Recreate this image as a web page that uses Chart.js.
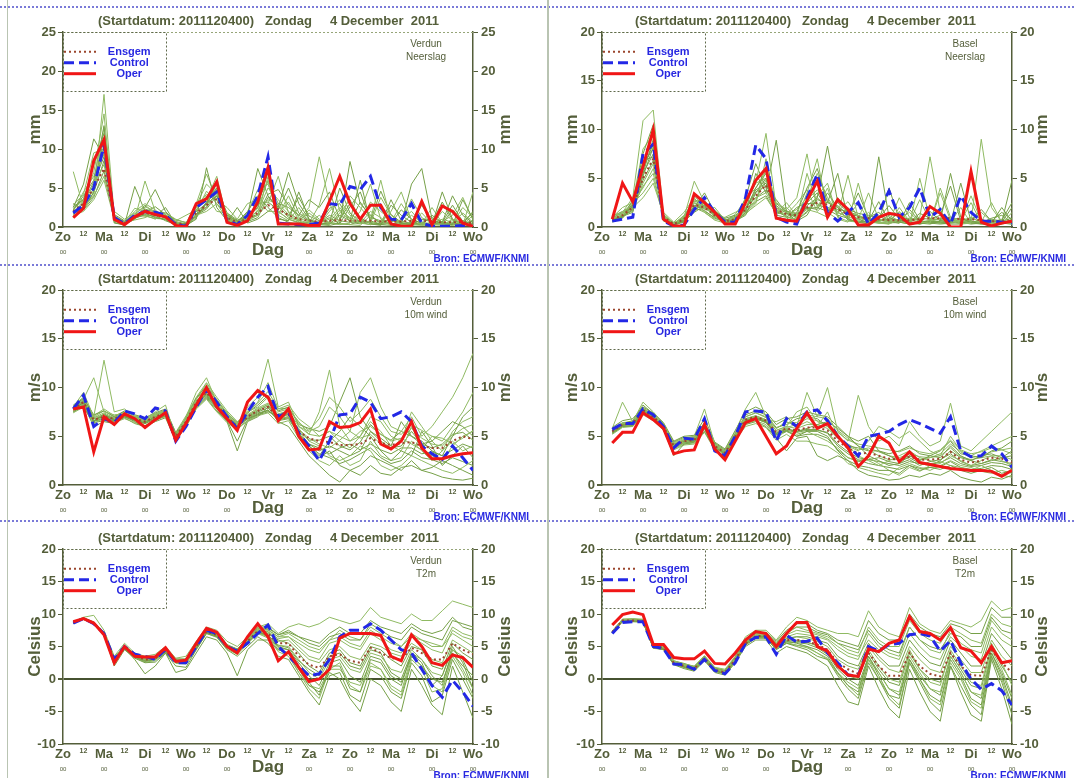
<!DOCTYPE html>
<html>
<head>
<meta charset="utf-8">
<script src="https://cdn.jsdelivr.net/npm/chart.js@4.4.0/dist/chart.umd.min.js"></script>
<style>
  body { margin: 0; background: #fff; width: 1074px; height: 778px; position: relative; overflow: hidden; }
  canvas { position: absolute; }
  .hsep { position: absolute; left: 0; width: 1074px; height: 0; border-top: 2px dotted #7a7ad8; }
  .vsep { position: absolute; top: 0; height: 778px; width: 2px; background: #b9c4b2; }
</style>
</head>
<body>
<div class="hsep" style="top:6px"></div>
<div class="hsep" style="top:264px"></div>
<div class="hsep" style="top:520px"></div>
<div class="vsep" style="left:7px;width:1px"></div>
<div class="vsep" style="left:547px"></div>
<canvas id="c1" width="537" height="264" style="left:0;top:0"></canvas>
<canvas id="c2" width="537" height="264" style="left:537px;top:0"></canvas>
<canvas id="c3" width="537" height="264" style="left:0;top:258px"></canvas>
<canvas id="c4" width="537" height="264" style="left:537px;top:258px"></canvas>
<canvas id="c5" width="537" height="264" style="left:0;top:517px"></canvas>
<canvas id="c6" width="537" height="264" style="left:537px;top:517px"></canvas>
<script>
// forecast hours after 2011-12-04 00 UTC
var hours = [6,12,18,24,30,36,42,48,54,60,66,72,78,84,90,96,102,108,114,120,
             126,132,138,144,150,156,162,168,174,180,186,192,198,204,210,216,222,228,234,240];
var dayLabels = ["Zo","Ma","Di","Wo","Do","Vr","Za","Zo","Ma","Di","Wo"];

// ---- Verdun neerslag (mm)
var verdunRainOper = [1.2,2.4,8.5,11.2,1.0,0.3,1.3,2.0,1.6,1.3, 0.2,0.0,3.0,3.6,5.8,0.6,0.2,0.8,3.2,7.6,
                      0.4,0.4,0.4,0.2,0.2,3.3,6.5,3.0,1.0,2.8, 2.8,0.4,0.1,0.1,3.3,0.3,2.7,2.0,0.5,0.1];
var verdunRainControl = [1.8,2.8,5.0,10.5,1.2,0.4,1.5,2.0,1.9,1.5, 0.3,0.1,2.5,3.5,4.5,0.8,0.3,1.5,4.0,9.0,
                         0.5,0.4,0.3,0.3,0.5,3.0,2.8,5.2,4.8,6.5, 2.5,1.0,0.9,3.0,0.5,0.1,0.1,0.1,0.2,0.1];
var verdunRainMean = [2.0,3.0,5.0,7.5,1.2,0.5,1.3,1.8,1.6,1.3, 0.5,0.3,1.8,2.8,3.6,1.2,0.6,1.0,1.8,2.8,
                      2.3,1.5,1.0,0.8,0.7,0.8,0.9,0.8,0.8,0.8, 0.7,0.7,0.7,0.8,0.9,0.6,0.6,0.6,0.6,0.5];
var verdunRainMembers = [
  [7.1,2.5,4.0,17.0,1.5,0.5,2.0,3.0,2.2,1.0, 0.4,0.2,2.5,3.5,6.5,1.0,0.3,1.2,2.0,5.0, 3.5,2.0,0.8,0.3,0.5,1.0,2.5,1.0,0.5,0.3, 0.8,0.2,1.0,2.0,0.5,0.3,0.2,1.0,0.5,0.3],
  [2.5,5.5,11.3,9.0,0.8,0.3,5.2,2.0,1.5,0.8, 0.3,0.5,2.0,3.0,4.0,1.5,0.8,1.5,7.5,4.0, 2.5,7.0,3.0,1.0,0.3,0.2,0.5,8.4,3.0,1.5, 0.4,1.2,0.5,0.3,1.0,0.8,0.5,0.3,3.5,1.0],
  [1.5,2.0,3.5,6.0,1.0,0.4,1.0,5.9,2.0,1.5, 0.6,0.3,1.5,2.0,3.0,1.0,0.5,0.8,1.5,3.0, 6.5,1.8,1.0,2.5,9.0,3.0,0.5,0.3,0.2,1.5, 0.5,2.0,4.5,0.8,0.3,0.2,0.5,0.3,0.2,4.5],
  [2.2,4.0,6.0,13.0,0.6,0.2,1.2,2.5,4.8,2.0, 0.5,0.2,1.0,7.6,2.5,0.8,0.3,1.5,2.5,8.0, 1.0,0.8,4.5,1.0,0.5,0.4,1.5,0.8,6.0,0.5, 0.3,0.2,0.4,5.5,7.5,1.0,0.4,0.3,0.4,0.8],
  [1.8,3.0,5.5,8.0,2.0,1.0,1.8,1.5,1.0,1.8, 1.0,0.5,3.0,6.8,3.5,2.5,1.0,3.0,3.5,2.0, 2.0,1.0,0.5,0.4,0.3,2.0,3.5,1.5,1.0,0.5, 3.8,1.5,0.5,0.3,0.2,0.3,2.0,0.8,0.3,0.2],
  [3.0,2.2,4.5,10.5,0.5,0.3,1.5,1.8,1.2,1.0, 0.2,0.1,1.2,3.0,5.0,0.6,2.5,0.5,1.0,2.0, 3.0,2.5,1.5,3.5,2.5,4.5,1.0,3.0,1.2,0.4, 0.2,2.8,1.5,0.6,0.3,1.5,0.6,4.0,1.5,0.5],
  [1.2,2.8,4.0,6.5,1.3,0.6,0.9,1.2,1.8,1.5, 0.8,1.5,2.2,4.0,2.0,1.8,0.4,1.0,1.5,6.5, 1.5,4.0,1.2,0.6,1.5,0.5,0.3,0.5,2.0,5.5, 1.0,0.4,0.3,0.2,0.5,0.4,0.3,0.2,0.5,0.3],
  [2.6,3.5,8.0,12.0,0.9,0.4,1.3,2.2,1.4,2.5, 0.4,0.2,1.6,2.5,4.5,1.2,0.6,2.0,4.0,2.5, 1.2,0.6,0.4,0.3,0.6,1.2,0.4,0.3,0.8,0.5, 0.3,0.5,2.2,1.0,0.5,0.3,0.6,0.5,0.4,2.0],
  [2.0,4.5,6.5,9.5,1.1,0.5,1.6,2.8,1.8,1.2, 0.5,0.3,2.8,5.5,4.2,1.4,0.7,0.6,2.2,3.5, 2.8,1.2,0.8,1.8,0.8,0.5,0.8,4.0,2.5,1.0, 6.0,0.8,0.5,1.5,0.6,0.4,1.0,0.6,0.3,1.5],
  [1.6,2.6,5.0,11.5,1.4,0.7,1.1,1.6,1.3,0.9, 0.4,0.2,1.4,3.2,5.5,0.9,0.5,1.1,2.8,7.0, 2.0,1.0,0.6,0.5,0.3,0.6,5.0,1.8,0.6,0.3, 0.5,1.0,0.4,0.3,0.4,0.3,4.5,1.0,0.5,0.3],
  [2.4,3.6,7.0,14.5,1.2,0.6,2.4,2.0,1.7,1.1, 0.6,0.3,2.0,4.6,3.0,1.6,0.8,1.8,4.8,5.5, 1.5,0.8,2.5,0.6,0.4,0.3,1.8,3.5,1.0,0.6, 0.4,0.6,3.0,1.0,0.4,2.5,0.5,0.4,1.8,0.6],
  [1.9,3.2,5.8,9.0,1.6,0.8,1.4,1.9,2.6,1.6, 0.7,0.4,2.2,3.8,5.0,1.8,0.9,1.2,1.6,4.2, 4.8,2.8,1.5,0.8,0.6,1.5,0.8,0.6,3.2,1.2, 0.8,0.5,0.3,0.6,2.8,0.6,0.4,2.2,0.8,0.4],
  [2.3,3.4,4.6,12.8,1.0,0.4,1.2,1.5,1.5,1.4, 0.3,0.2,1.7,2.6,6.0,1.1,0.4,0.9,3.5,5.8, 1.8,3.2,0.9,0.5,2.8,7.5,2.0,0.8,0.5,2.0, 1.2,0.3,0.6,3.6,1.2,0.5,0.3,0.4,2.5,1.2],
  [1.4,2.2,3.8,7.2,0.8,0.3,1.0,2.3,1.9,1.8, 0.9,0.6,1.3,3.1,4.8,0.7,0.3,0.7,1.2,3.8, 2.6,1.4,3.8,1.4,0.8,0.5,0.4,2.6,4.5,0.8, 0.3,3.5,0.8,0.4,0.3,0.6,3.2,0.9,0.4,0.8],
  [2.8,4.2,9.5,10.0,1.3,0.5,1.7,2.6,2.0,1.5, 0.5,0.2,2.6,4.2,3.4,1.3,0.6,1.4,2.4,6.0, 3.0,1.6,0.7,2.2,1.0,0.6,2.2,1.2,0.7,3.2, 2.0,0.9,0.4,0.5,1.8,0.4,0.7,1.5,3.8,0.9],
  [1.7,2.5,4.4,8.5,1.1,0.4,1.5,1.4,1.1,1.0, 0.4,0.3,1.5,2.3,4.0,1.0,0.5,1.3,3.0,3.2, 2.2,5.0,1.8,0.9,0.4,2.4,3.0,0.6,0.4,0.8, 4.6,1.6,0.6,0.3,0.5,1.2,0.6,2.8,0.7,1.8]
];

// ---- Basel neerslag (mm)
var baselRainOper = [0.8,4.5,2.6,6.2,10.0,0.8,0.1,0.1,3.4,2.5, 1.5,0.3,0.3,2.5,4.8,6.0,0.9,0.7,0.6,2.7,
                     4.7,1.0,2.8,1.8,0.2,0.2,1.0,1.4,1.2,0.3, 0.5,2.1,1.4,0.0,0.0,5.7,0.5,0.1,0.4,0.6];
var baselRainControl = [0.6,0.8,1.0,7.5,8.5,0.6,0.1,0.2,1.8,3.0, 1.5,0.5,0.5,3.0,8.4,7.0,1.0,0.5,0.3,3.0,
                        5.4,1.5,0.6,1.5,2.5,0.3,1.5,3.7,1.0,2.0, 4.0,1.0,1.8,0.3,3.2,1.5,0.6,0.6,0.5,0.4];
var baselRainMean = [0.8,1.2,2.0,5.0,7.0,1.0,0.3,0.8,2.3,2.0, 1.2,0.6,0.8,1.8,3.2,4.3,1.8,1.3,1.2,2.0,
                     2.5,2.3,1.8,1.3,1.0,0.9,0.8,0.7,0.7,0.7, 0.8,0.9,0.9,0.9,0.8,0.8,0.7,0.6,0.6,0.6];
var baselRainMembers = [
  [0.9,1.5,3.0,10.9,12.0,1.2,0.4,1.0,4.7,2.5, 1.0,0.5,1.0,2.5,4.5,9.6,2.0,1.0,0.8,3.5, 7.0,1.5,0.8,0.5,4.5,0.6,0.4,0.3,0.8,1.5, 0.5,0.4,4.0,1.0,0.3,0.5,9.0,2.0,0.5,0.3],
  [0.6,1.0,1.8,6.5,8.0,0.8,0.2,0.5,2.0,3.5, 1.5,0.8,0.5,1.5,5.5,3.5,8.9,1.5,0.6,1.2, 3.0,8.3,2.5,1.5,0.8,0.4,7.2,1.0,0.5,0.3, 0.4,0.3,0.6,5.5,1.0,0.4,0.3,0.6,1.5,0.8],
  [1.0,2.0,2.5,4.0,6.0,1.5,0.5,1.5,3.0,1.5, 0.8,1.0,1.5,2.0,2.5,6.0,2.5,1.8,3.0,7.5, 2.0,4.0,1.0,2.0,0.6,1.5,0.5,0.3,2.0,0.6, 1.0,7.2,1.5,0.8,0.6,1.0,0.4,0.5,0.3,1.5],
  [0.7,1.1,1.5,5.5,9.0,0.6,0.2,0.6,1.5,2.2, 1.3,0.4,0.6,1.2,3.5,5.0,1.0,0.8,1.5,4.0, 6.0,2.5,5.5,0.8,0.5,0.3,0.6,4.0,0.8,0.4, 0.3,0.6,0.5,0.4,4.5,0.6,0.3,0.2,0.5,2.0],
  [1.2,1.4,2.4,3.5,5.0,1.0,0.3,0.9,2.5,1.8, 2.0,0.7,1.0,2.2,3.0,3.5,1.5,2.0,1.0,1.8, 1.5,1.0,3.0,1.5,1.2,0.8,0.4,0.6,0.5,0.3, 5.0,0.8,0.4,0.6,0.3,0.4,0.6,0.4,0.3,0.5],
  [0.5,0.9,2.2,7.5,10.5,0.9,0.3,0.7,1.9,1.7, 0.9,0.5,0.7,3.0,6.5,4.0,1.2,1.0,2.0,2.5, 3.5,1.8,1.2,0.9,0.4,1.0,1.5,0.5,0.4,2.5, 0.7,0.4,0.3,0.4,0.5,0.3,0.4,0.3,0.5,4.8],
  [0.8,1.3,1.6,4.5,6.5,1.1,0.4,0.8,2.6,2.8, 1.1,0.6,0.9,1.6,2.8,4.8,2.0,1.5,0.9,5.5, 2.2,2.0,1.5,1.0,2.5,0.7,0.5,1.2,0.6,0.4, 0.5,0.6,0.8,0.5,0.6,2.5,0.4,0.8,0.4,0.3],
  [0.9,1.0,2.8,5.5,7.5,0.7,0.2,0.6,2.2,2.0, 1.6,0.9,1.2,1.9,3.8,4.5,1.6,1.1,0.7,1.5, 2.8,2.5,2.0,0.7,0.6,0.5,0.4,0.4,0.5,0.6, 0.3,0.5,0.4,0.3,0.3,0.5,0.4,0.5,0.6,0.4],
  [0.6,1.2,2.0,3.0,4.5,1.3,0.4,1.1,2.0,1.5, 0.7,0.4,0.6,1.4,2.2,3.0,1.4,2.5,1.1,2.8, 3.8,2.8,1.3,5.3,0.9,0.6,1.2,0.5,3.0,1.0, 0.6,0.4,0.5,1.0,0.5,0.7,1.5,0.6,0.4,0.3],
  [1.1,1.6,2.2,6.0,8.5,1.0,0.3,1.0,2.8,2.4, 1.4,0.6,0.8,1.7,4.0,5.5,2.2,1.4,1.3,2.0, 1.8,3.5,2.0,1.4,1.1,0.8,0.6,0.9,0.7,0.5, 1.4,0.9,0.7,0.6,0.8,0.6,0.5,0.4,2.0,0.6],
  [0.7,1.3,2.6,8.0,9.5,0.9,0.3,0.7,2.4,2.2, 1.0,0.5,0.9,2.4,4.5,5.0,1.5,1.2,1.8,3.0, 5.5,3.0,1.5,1.0,0.8,3.5,0.8,0.6,1.5,0.4, 0.6,0.5,3.5,0.7,0.4,1.0,0.5,2.5,0.5,0.4],
  [1.0,1.4,2.1,4.8,6.8,1.2,0.4,0.9,2.1,1.9, 1.3,0.7,1.1,2.0,3.0,3.8,2.4,1.6,1.4,1.9, 2.0,1.6,2.6,1.8,1.4,1.2,0.9,2.2,0.8,0.9, 0.7,1.6,0.6,0.8,0.9,0.7,1.8,0.6,0.7,2.5],
  [0.8,1.1,1.9,5.8,10.2,0.8,0.2,0.6,1.6,2.6, 1.7,0.8,0.7,1.3,2.4,7.0,1.8,1.0,0.8,1.6, 3.2,4.5,1.0,0.6,0.5,0.4,0.7,0.5,1.6,0.5, 2.8,0.6,0.4,0.5,2.0,0.4,0.5,0.7,0.4,0.6],
  [0.6,1.0,2.4,6.8,7.2,1.1,0.3,0.8,3.2,2.1, 1.2,0.5,0.8,1.8,3.6,4.2,2.8,1.4,1.0,2.4, 2.4,1.8,2.2,1.2,3.5,0.9,0.6,0.8,0.5,0.7, 0.9,0.8,1.2,4.2,0.6,0.5,0.4,0.9,1.2,0.5],
  [0.9,1.5,2.0,4.2,5.5,0.9,0.3,1.2,2.7,1.6, 1.0,0.6,1.3,2.8,4.0,5.8,1.7,1.3,2.4,3.8, 1.6,2.6,1.6,2.6,1.0,0.8,0.5,0.4,0.6,0.8, 0.5,0.7,0.9,0.6,0.7,3.2,0.6,0.5,0.8,0.4],
  [0.7,1.2,1.7,5.2,8.2,1.0,0.3,0.7,1.8,2.3, 1.5,0.7,0.6,1.5,2.6,3.2,1.3,1.7,0.9,2.2, 3.0,2.0,1.8,1.6,1.2,0.6,2.6,0.6,0.4,1.8, 0.6,0.4,0.6,0.5,0.4,0.6,0.5,0.8,0.6,0.9]
];

// ---- Verdun 10m wind (m/s)
var verdunWindOper = [7.8,8.0,3.4,7.0,6.2,7.3,6.8,5.9,6.7,7.4, 4.6,6.3,8.2,10.0,8.0,6.8,5.6,8.5,9.7,9.0,
                      6.6,7.8,5.0,3.6,3.7,6.5,5.9,6.0,6.4,7.8, 4.2,3.7,4.5,6.5,3.8,2.7,2.7,3.0,3.2,3.3];
var verdunWindControl = [7.8,9.2,6.0,6.8,6.4,7.6,7.3,6.8,7.9,7.6, 4.5,6.0,8.0,9.8,8.5,7.0,5.8,7.5,9.0,10.1,
                         7.0,7.5,5.3,4.0,2.5,4.5,7.2,7.3,9.0,8.5, 6.8,7.0,7.5,6.5,4.0,3.2,2.6,4.0,2.8,1.5];
var verdunWindMean = [7.8,8.5,6.7,7.0,6.8,7.2,6.8,6.5,7.0,7.4, 5.0,6.5,8.5,9.5,8.2,7.0,6.0,7.0,7.6,8.0,
                      7.0,7.2,5.5,4.8,4.5,4.4,4.1,4.1,4.2,4.8, 4.3,4.1,4.3,4.4,4.0,3.8,3.8,4.5,5.0,4.7];
var verdunWindMembers = [
  [8.0,9.5,7.0,12.8,7.5,7.8,7.0,6.8,7.5,8.2, 4.8,7.0,9.5,11.0,8.5,7.5,5.5,8.0,9.0,12.9, 8.0,8.5,6.0,5.5,6.0,8.0,7.0,5.5,9.5,11.0, 8.0,6.0,5.5,7.0,5.0,6.0,7.5,9.0,11.0,13.5],
  [7.5,8.2,6.0,6.5,6.3,7.0,6.5,5.9,6.6,7.1, 4.6,6.2,8.0,9.0,7.8,6.5,3.5,6.5,7.0,8.0, 6.5,6.0,4.5,3.0,2.0,1.0,0.3,1.5,2.0,3.0, 2.5,2.0,1.5,2.5,1.5,1.8,2.5,2.0,1.5,1.0],
  [7.7,8.8,11.0,7.5,7.2,7.3,7.0,6.9,7.3,7.5, 5.2,6.8,8.8,10.0,8.8,7.4,6.2,7.5,8.0,9.0, 7.5,7.8,6.5,5.2,7.5,11.8,6.0,4.5,5.0,6.5, 5.5,4.0,3.5,6.0,3.8,3.0,2.5,4.0,5.0,5.5],
  [7.9,8.6,6.5,7.2,6.6,7.0,6.7,6.3,6.8,7.2, 5.1,6.4,8.2,9.3,8.0,6.8,6.3,6.8,7.2,7.5, 7.2,7.5,5.0,4.0,3.0,4.5,5.5,7.0,6.0,5.0, 3.5,2.5,3.5,3.0,5.5,4.0,2.0,3.0,4.0,2.8],
  [7.6,8.3,6.8,6.8,6.9,7.4,6.9,6.6,7.1,7.6, 4.9,6.6,8.6,9.6,8.3,7.1,6.1,7.1,7.7,8.3, 6.8,7.0,5.8,4.5,4.0,3.0,2.5,3.0,4.0,3.5, 2.0,1.5,2.0,3.0,2.5,2.0,1.5,1.2,1.8,2.5],
  [8.1,8.9,7.2,7.6,7.0,7.6,7.2,6.9,7.4,7.8, 5.3,6.9,8.9,10.2,8.6,7.3,6.4,7.4,8.2,9.2, 7.6,8.0,6.2,5.8,5.5,6.0,8.5,11.0,7.0,5.5, 4.8,4.0,6.5,5.0,4.5,3.5,3.0,5.0,7.0,8.0],
  [7.4,8.0,6.3,6.9,6.4,6.8,6.4,6.1,6.7,7.0, 4.7,6.0,7.8,8.8,7.5,6.4,5.7,6.6,7.1,7.4, 6.3,6.6,4.8,3.5,2.5,2.0,3.0,2.0,2.5,4.5, 3.0,2.5,2.8,4.5,3.5,2.5,3.5,4.5,3.5,4.0],
  [7.8,8.4,6.6,7.3,6.7,7.1,6.6,6.4,7.0,7.3, 5.0,6.5,8.4,9.4,8.1,6.9,5.9,6.9,7.5,7.9, 7.0,7.3,5.5,4.2,3.5,4.0,3.5,3.0,3.5,5.5, 4.5,3.8,4.0,5.5,4.2,4.5,5.5,6.5,6.0,5.0],
  [8.2,9.0,7.1,7.8,7.1,7.5,7.1,6.8,7.2,7.7, 5.4,7.1,9.0,10.5,9.0,7.6,6.5,7.3,8.5,10.5, 7.8,8.2,6.8,6.0,5.0,5.5,4.5,3.8,5.0,7.0, 6.5,5.0,4.5,7.5,6.0,4.5,3.5,5.5,6.5,7.0],
  [7.5,8.1,6.4,6.6,6.5,6.9,6.3,6.0,6.5,6.9, 4.5,6.0,7.9,8.9,7.6,6.6,4.5,6.7,7.3,7.7, 6.6,6.8,5.2,3.8,2.8,3.5,2.0,1.5,1.0,2.0, 1.2,1.0,1.8,2.0,1.5,1.2,0.8,0.6,0.5,0.7],
  [7.7,8.7,6.9,7.4,6.9,7.3,6.9,6.6,7.2,7.5, 5.1,6.6,8.6,9.8,8.4,7.2,6.2,7.2,7.9,8.4, 7.3,7.6,6.0,5.2,5.0,5.5,5.0,4.5,5.5,6.0, 5.2,4.5,4.8,5.8,4.8,4.2,4.0,5.0,5.8,6.2],
  [7.9,8.4,6.5,6.9,6.7,7.1,6.7,6.4,6.9,7.3, 4.9,6.4,8.3,9.2,8.0,6.9,5.9,6.8,7.4,7.6, 6.8,7.0,5.2,4.2,3.8,3.2,3.8,4.2,3.6,4.2, 3.6,3.2,3.8,3.8,3.2,3.4,3.0,3.6,4.2,3.8],
  [7.6,8.9,7.0,7.6,7.0,7.4,7.0,6.7,7.3,7.7, 5.2,6.8,8.8,10.4,8.7,7.4,6.4,7.6,8.4,9.6, 7.8,7.9,6.4,5.6,6.8,9.0,8.0,6.5,7.5,8.8, 7.0,5.5,5.2,6.2,5.6,5.0,4.5,6.0,7.5,9.5],
  [7.7,8.3,6.6,6.7,6.6,7.0,6.6,6.3,6.8,7.1, 4.8,6.3,8.1,9.1,7.9,6.7,5.8,6.6,7.2,7.7, 6.7,6.9,5.3,4.0,3.2,2.8,2.2,2.6,3.2,3.8, 2.8,2.2,2.5,3.5,2.8,2.6,2.2,2.8,2.4,2.0],
  [8.0,8.7,6.9,7.2,6.9,7.3,6.9,6.6,7.1,7.5, 5.0,6.6,8.5,9.6,8.3,7.0,6.1,7.1,7.8,8.2, 7.1,7.4,5.7,4.8,4.2,3.8,4.6,5.5,4.8,5.2, 4.2,3.6,4.8,4.2,3.6,5.0,4.8,4.2,4.8,5.6],
  [7.8,8.5,6.8,7.0,6.8,7.2,6.8,6.5,7.0,7.4, 5.0,6.5,8.4,9.4,8.2,7.0,6.0,7.0,7.6,8.1, 7.0,7.2,5.6,4.6,4.6,5.0,4.0,3.6,4.4,6.2, 5.2,4.6,5.5,5.0,4.2,3.8,4.2,5.2,5.4,4.6]
];

// ---- Basel 10m wind (m/s)
var baselWindOper = [4.3,5.4,5.4,7.4,6.7,5.8,3.2,3.5,3.6,6.2, 3.7,2.6,4.5,6.4,6.8,5.0,3.2,4.0,5.8,7.4,
                     5.8,6.3,5.0,3.8,1.9,3.0,5.0,4.3,2.4,3.4, 2.3,2.1,1.9,1.7,1.6,1.5,1.5,1.4,0.9,1.5];
var baselWindControl = [5.7,6.3,6.3,7.8,7.2,6.0,3.8,4.8,4.7,6.8, 3.5,3.0,5.0,7.5,7.6,7.5,4.5,6.8,6.0,7.5,
                        7.7,6.6,5.0,4.0,3.0,5.0,5.2,5.5,6.2,6.7, 6.3,5.8,5.3,7.0,3.5,2.9,3.0,4.0,3.2,1.8];
var baselWindMean = [5.5,6.2,6.3,7.7,7.0,6.0,4.0,4.5,4.6,6.0, 4.0,3.3,5.0,6.7,7.0,6.6,5.4,5.8,5.6,5.9,
                     5.9,5.6,4.5,3.8,3.2,3.3,3.0,2.7,2.6,2.9, 2.6,2.6,2.7,3.4,2.6,2.3,2.5,2.8,2.7,2.3];
var baselWindMembers = [
  [5.8,8.5,6.5,8.5,7.5,6.3,4.3,4.8,5.0,7.8, 4.2,3.5,5.5,7.8,9.5,7.0,5.8,6.5,6.0,9.5, 7.0,10.0,5.5,4.5,9.2,6.0,4.5,5.0,4.0,6.5, 5.0,4.0,4.5,8.4,4.0,3.5,4.5,5.5,6.5,7.5],
  [5.3,6.0,6.1,7.3,6.8,5.7,3.0,4.2,4.4,5.5, 3.7,2.8,4.5,6.2,6.5,6.0,4.8,3.5,4.8,5.0, 3.0,2.5,3.0,2.5,1.5,1.0,0.8,0.5,0.6,1.0, 0.8,1.2,1.0,1.5,0.8,0.5,0.3,0.8,0.6,1.0],
  [5.6,6.4,6.3,7.9,7.2,6.1,4.1,4.6,4.8,6.2, 4.1,3.4,5.2,7.0,7.4,6.9,5.6,6.0,7.5,8.0, 6.5,6.0,5.0,4.0,3.5,4.5,6.0,5.5,4.8,5.5, 4.5,3.5,3.0,5.0,3.5,3.0,3.5,4.0,4.5,5.0],
  [5.4,6.1,6.2,7.5,6.9,5.9,3.8,4.3,4.5,5.8, 3.9,3.2,4.8,6.5,6.8,6.4,5.2,5.5,5.0,5.5, 5.5,5.0,3.5,2.5,2.0,1.8,1.5,1.5,1.2,2.0, 1.5,1.8,1.6,2.0,1.5,1.2,1.5,1.8,1.2,1.5],
  [5.7,6.3,6.4,7.8,7.1,6.0,4.0,4.6,4.7,6.1, 4.0,3.4,5.1,6.8,7.1,6.7,6.5,7.0,6.0,6.5, 6.0,7.5,5.0,4.0,3.0,2.5,2.0,2.5,3.0,3.5, 2.8,2.5,2.2,3.0,2.5,2.0,2.5,3.0,2.5,2.0],
  [5.5,6.2,6.4,7.6,7.0,6.1,4.2,4.5,4.6,6.0, 4.1,3.3,5.0,6.6,6.9,6.5,5.3,5.8,5.5,5.8, 6.2,6.5,5.8,5.0,4.5,5.0,3.5,3.0,2.5,2.8, 2.2,2.0,2.5,3.5,2.8,2.5,2.2,2.5,2.8,3.5],
  [5.4,6.0,6.0,7.4,6.7,5.8,3.7,4.2,4.3,5.7, 3.8,3.1,4.7,6.3,6.6,6.2,4.9,5.5,5.2,5.5, 5.0,4.5,3.8,2.8,2.5,2.8,2.2,1.5,1.0,1.8, 1.4,2.0,2.4,2.0,1.8,1.5,2.0,1.5,1.0,0.8],
  [5.6,6.3,6.6,8.2,7.3,6.3,4.4,4.9,4.9,6.4, 4.3,3.6,5.3,7.2,7.6,7.2,5.9,6.2,6.8,7.0, 6.8,6.0,4.8,4.0,3.8,3.5,3.5,3.2,3.5,4.0, 3.2,3.0,3.5,4.5,3.2,3.0,2.8,3.5,3.8,4.5],
  [5.2,5.9,6.0,7.2,6.6,5.6,3.6,4.1,4.2,5.4, 3.6,3.0,4.6,6.0,6.3,5.9,4.6,5.2,4.5,4.5, 4.2,4.0,3.3,2.2,1.8,1.5,1.2,1.0,1.8,2.2, 1.8,1.5,2.0,2.5,2.0,1.8,1.4,1.2,1.5,1.2],
  [5.9,6.6,6.8,8.0,7.4,6.4,4.5,5.0,5.1,6.8, 4.4,3.7,5.6,7.5,8.0,7.5,6.2,6.8,7.0,7.5, 7.2,7.0,6.0,5.0,4.0,3.0,2.5,2.0,2.2,3.0, 2.5,3.0,2.8,4.0,3.0,2.5,3.0,3.2,2.8,3.0],
  [5.5,6.2,6.3,7.6,7.0,6.0,4.0,4.5,4.6,6.0, 4.0,3.3,5.0,6.8,7.1,6.7,5.6,6.0,5.8,6.2, 6.2,5.8,4.8,4.2,3.6,3.8,3.4,3.0,2.8,3.2, 2.9,2.8,3.0,3.8,2.9,2.6,2.8,3.0,3.0,2.6],
  [5.6,6.3,6.2,7.8,7.1,6.1,4.1,4.6,4.7,6.1, 4.1,3.4,5.1,6.6,6.9,6.5,5.2,5.6,5.4,5.6, 5.6,5.4,4.2,3.4,2.8,2.6,2.4,2.2,2.0,2.4, 2.2,2.2,2.3,2.8,2.2,1.9,2.0,2.3,2.2,1.9],
  [5.4,6.1,6.4,7.7,6.9,5.9,3.9,4.4,4.5,5.9, 3.9,3.2,4.9,6.7,7.0,6.6,5.4,5.9,6.2,6.8, 6.6,6.2,5.4,4.6,4.2,4.0,3.8,3.6,3.4,3.8, 3.4,3.2,3.6,4.6,3.6,3.2,3.4,3.8,3.6,3.2],
  [5.5,6.2,6.3,7.7,7.0,6.0,4.0,4.5,4.6,6.0, 4.0,3.3,5.0,6.7,7.0,6.6,5.3,5.7,5.5,5.7, 5.7,5.3,4.0,3.2,2.6,2.2,2.0,1.8,1.6,2.0, 1.7,1.8,1.9,2.4,1.8,1.6,1.7,2.0,1.9,1.6],
  [5.6,6.4,6.5,7.9,7.2,6.2,4.2,4.7,4.8,6.3, 4.2,3.5,5.2,7.0,7.4,7.0,5.8,6.4,6.4,7.2, 7.0,6.8,5.6,4.8,4.0,3.6,3.0,2.6,2.6,3.0, 2.6,2.8,3.2,4.2,3.4,2.8,3.0,3.4,3.6,3.8],
  [5.3,6.0,6.1,7.5,6.8,5.8,3.9,4.4,4.4,5.8, 3.8,3.2,4.8,6.5,6.8,6.4,5.1,5.6,5.0,5.2, 5.2,4.8,3.6,2.8,2.4,2.6,2.8,2.4,2.2,2.6, 2.0,2.4,2.6,3.2,2.4,2.0,2.2,2.6,2.4,2.2]
];

// ---- Verdun T2m (Celsius)
var verdunTempOper = [8.8,9.3,8.6,6.8,2.5,5.0,3.5,3.4,3.4,4.8, 2.7,2.9,5.5,7.8,7.2,5.0,4.0,6.5,8.5,6.5,
                      2.8,4.2,1.8,-0.4,0.0,1.5,6.3,7.0,7.0,7.0, 6.7,3.5,2.8,6.8,5.0,2.5,2.1,3.7,3.3,1.8];
var verdunTempControl = [8.6,9.3,8.5,7.0,3.0,5.0,3.8,3.5,3.0,4.6, 2.5,2.5,5.0,7.5,7.0,5.0,4.3,5.5,7.0,8.3,
                         5.0,3.5,2.0,0.5,0.8,3.0,6.5,7.5,7.5,8.5, 7.5,6.0,4.5,4.0,1.5,-1.0,-2.8,-0.2,-2.0,-4.2];
var verdunTempMean = [8.7,9.3,8.6,7.0,3.0,4.8,3.6,3.0,3.2,4.3, 2.8,2.8,5.0,7.3,6.8,5.0,4.3,5.8,7.4,7.0,
                      5.5,5.5,3.5,2.2,1.7,3.5,3.8,2.8,2.5,4.8, 4.0,3.2,3.0,4.8,4.0,3.0,3.0,5.5,4.5,3.8];
var verdunTempMembers = [
  [8.8,9.5,9.8,7.5,3.5,5.5,4.0,3.5,3.8,5.0, 3.2,3.5,5.8,8.0,7.5,5.8,5.0,6.5,8.0,8.5, 7.0,8.0,8.5,8.0,8.5,9.5,9.0,8.5,9.0,11.0, 9.5,9.0,8.5,10.0,9.0,9.0,10.5,12.0,11.5,11.0],
  [8.6,9.2,8.4,6.8,2.0,4.5,3.2,2.5,2.6,4.0, 2.0,1.8,4.5,7.0,6.5,4.5,3.5,5.0,6.5,5.5, 3.5,3.0,0.5,-2.0,-4.0,0.5,1.0,-2.5,-3.5,1.5, 0.5,-2.0,-3.0,2.5,0.5,-3.5,-2.5,3.0,0.0,-3.0],
  [8.7,9.4,8.8,7.2,3.2,5.0,3.8,3.2,3.5,4.5, 3.0,3.0,5.2,7.6,7.0,5.2,4.5,6.0,7.6,7.5, 6.5,6.5,5.0,3.5,3.0,5.5,6.0,5.0,4.5,7.0, 6.0,4.5,4.0,6.5,5.5,4.5,4.0,7.5,6.5,6.0],
  [8.6,9.2,8.5,6.9,2.8,4.6,3.4,2.8,3.0,4.2, 2.6,2.5,4.8,7.2,6.6,4.8,4.0,5.5,7.2,6.8, 5.0,4.5,2.0,-0.5,-2.5,2.0,2.0,-1.5,-2.0,3.0, 2.5,0.0,-1.0,4.0,2.5,-1.0,0.5,5.0,2.5,-1.5],
  [8.8,9.3,8.7,7.1,3.1,4.9,3.7,3.1,3.3,4.4, 2.9,2.9,5.1,7.4,6.9,5.1,4.4,5.9,7.5,7.2, 5.8,6.0,4.5,3.0,2.5,4.5,5.0,3.5,3.0,5.5, 5.0,4.0,3.5,5.5,4.5,3.0,2.5,6.0,5.0,4.0],
  [8.7,9.4,8.6,7.0,2.5,4.7,3.0,0.8,2.0,4.0, 1.0,1.5,4.0,6.5,6.0,4.0,0.5,4.5,6.0,6.0, 4.5,4.0,1.5,-1.0,-2.0,1.0,0.0,-3.0,-5.0,0.0, -1.0,-3.5,-5.0,1.5,-1.0,-4.0,-5.5,2.0,-2.0,-6.0],
  [8.7,9.3,8.6,7.0,3.0,4.8,3.6,3.0,3.2,4.3, 2.8,2.8,5.0,7.3,6.9,5.0,4.3,5.8,7.3,6.8, 5.2,5.0,3.0,1.0,0.0,3.0,3.5,1.5,1.0,4.0, 3.5,1.5,1.0,4.5,3.0,1.0,0.5,4.5,3.5,2.0],
  [8.8,9.4,8.7,7.1,3.3,5.1,3.9,3.3,3.5,4.6, 3.1,3.1,5.3,7.6,7.2,5.3,4.6,6.2,8.0,8.0, 6.8,7.5,6.5,5.5,5.0,6.5,7.0,6.0,6.0,8.5, 7.5,6.5,6.0,8.0,7.0,6.5,6.0,9.0,8.5,8.0],
  [8.6,9.2,8.5,6.9,2.9,4.7,3.5,2.9,3.1,4.2, 2.7,2.7,4.9,7.2,6.7,4.9,4.2,5.7,7.1,6.5, 4.5,4.0,1.0,-1.5,-3.0,1.5,1.5,-0.5,-1.0,2.5, 1.5,-1.5,-2.5,3.0,1.5,-2.0,-1.5,3.5,1.0,-2.5],
  [8.7,9.3,8.6,7.0,3.0,4.8,3.6,3.0,3.2,4.3, 2.8,2.8,5.0,7.3,6.8,5.0,4.3,5.8,7.4,7.0, 6.0,5.5,4.0,2.0,1.0,4.0,4.5,2.5,2.0,5.0, 4.5,3.0,2.0,5.0,4.5,2.0,1.5,5.5,4.0,3.0],
  [8.7,9.3,8.6,7.0,3.0,4.9,3.6,3.1,3.2,4.3, 2.8,2.8,5.0,7.3,6.8,5.0,4.3,5.8,7.4,7.3, 6.2,6.5,5.5,4.5,4.0,6.0,6.5,5.5,5.0,7.5, 6.5,5.5,5.0,7.0,6.0,5.0,5.0,8.0,7.0,6.5],
  [8.6,9.2,8.5,6.9,2.8,4.7,3.4,2.7,3.0,4.2, 2.6,2.6,4.8,7.1,6.6,4.8,4.0,5.6,7.1,6.6, 4.8,4.5,2.5,0.5,-1.0,2.5,3.0,0.5,-0.5,3.5, 3.0,0.5,-0.5,3.5,2.0,0.0,-0.5,4.0,2.0,0.5],
  [8.8,9.4,8.7,7.1,3.2,5.0,3.8,3.2,3.4,4.5, 3.0,3.0,5.2,7.5,7.0,5.2,4.5,6.0,7.7,7.6, 6.5,7.0,6.0,5.0,4.5,6.0,7.5,6.5,6.0,8.0, 7.0,6.0,5.0,6.5,6.0,5.5,5.0,7.0,6.0,5.0],
  [8.7,9.3,8.6,7.0,2.9,4.8,3.5,2.9,3.1,4.3, 2.7,2.7,4.9,7.2,6.7,4.9,4.1,5.7,7.2,6.7, 5.2,4.8,2.8,1.5,0.5,3.5,4.0,2.0,1.5,4.5, 4.0,1.0,0.0,4.0,3.0,0.5,-1.0,4.5,3.0,-0.5],
  [8.6,9.2,8.5,6.9,2.7,4.6,3.3,2.6,2.8,4.1, 2.4,2.3,4.6,7.0,6.4,4.6,3.8,5.4,7.0,6.3, 4.2,3.5,1.0,-1.0,-1.5,1.5,2.5,-1.0,-2.0,2.0, 1.5,-1.0,-2.0,3.5,2.0,-1.0,-2.0,4.0,1.5,-1.5],
  [8.8,9.4,8.7,7.1,3.1,4.9,3.7,3.2,3.4,4.5, 3.0,3.0,5.2,7.5,7.1,5.2,4.6,6.1,7.8,7.8, 6.8,7.2,6.5,6.0,5.5,7.0,8.0,7.0,7.0,9.0, 8.0,7.5,7.0,8.5,7.5,7.0,7.5,9.5,8.0,7.5]
];

// ---- Basel T2m (Celsius)
var baselTempOper = [8.3,9.9,10.3,9.9,5.3,5.3,3.3,3.1,3.1,4.3, 2.4,2.3,4.0,6.0,7.3,7.0,5.0,7.0,8.7,8.7,
                     5.0,4.3,2.0,0.6,0.4,4.6,4.2,5.5,6.0,9.6, 7.3,7.0,6.0,7.9,4.8,4.3,2.5,5.0,2.5,2.8];
var baselTempControl = [7.0,8.7,8.8,8.8,5.0,4.7,2.3,2.2,1.5,3.0, 1.3,0.8,2.5,5.5,6.4,6.5,3.8,6.7,5.7,5.8,
                        6.3,4.0,2.5,0.6,0.5,5.0,4.3,5.3,5.5,6.8, 7.0,6.6,4.3,5.9,2.5,0.0,-1.6,-0.7,-1.8,-4.0];
var baselTempMean = [7.2,9.0,9.0,8.9,5.0,4.8,2.5,2.0,1.6,3.2, 1.4,1.0,3.0,5.5,6.6,6.6,5.0,6.0,6.0,5.8,
                     5.3,4.5,2.5,1.5,0.8,4.0,2.0,0.5,0.5,4.0, 2.0,0.8,0.4,4.0,2.0,0.6,0.5,4.5,2.5,1.0];
var baselTempMembers = [
  [7.3,9.2,9.3,9.2,5.5,5.2,2.8,2.3,2.0,3.6, 1.8,1.5,3.5,6.5,7.5,7.5,6.0,8.0,9.5,9.0, 8.0,7.5,7.0,7.0,6.5,10.5,8.0,7.0,6.5,11.0, 8.5,7.5,7.0,9.0,8.5,8.0,9.0,12.0,10.5,11.0],
  [7.1,8.9,8.9,8.8,4.8,4.5,2.2,1.6,1.2,2.8, 1.0,0.6,2.5,5.0,6.0,6.0,4.0,5.0,4.5,4.0, 3.0,2.0,-1.0,-3.5,-4.0,2.0,-1.5,-4.5,-6.0,1.5, -2.0,-5.0,-6.5,2.0,-2.0,-5.5,-6.5,3.0,-1.5,-7.0],
  [7.2,9.1,9.1,9.0,5.1,4.9,2.6,2.1,1.7,3.3, 1.5,1.1,3.1,5.7,6.8,6.8,5.3,6.5,7.0,6.8, 6.5,6.0,4.5,3.5,3.0,7.0,5.0,4.0,3.5,8.0, 6.0,4.5,4.0,7.5,5.5,4.5,4.0,9.0,7.0,6.0],
  [7.2,9.0,9.0,8.9,4.9,4.7,2.4,1.9,1.5,3.1, 1.3,0.9,2.9,5.4,6.5,6.5,4.8,5.8,5.5,5.0, 4.5,3.5,1.0,-1.0,-2.0,3.5,0.5,-2.5,-3.0,3.0, 0.0,-2.5,-3.5,3.0,0.5,-3.0,-4.0,4.0,0.5,-4.0],
  [7.3,9.1,9.0,9.0,5.2,5.0,2.7,2.2,1.8,3.4, 1.6,1.2,3.2,5.8,7.0,7.0,5.5,7.0,8.0,7.5, 7.0,6.5,5.5,4.5,4.0,8.0,6.0,5.0,5.0,9.0, 7.0,6.0,5.5,8.0,7.0,6.0,5.5,10.0,8.5,8.0],
  [7.1,8.9,8.9,8.8,4.7,4.6,2.3,1.8,1.3,2.9, 1.2,0.8,2.7,5.2,6.3,6.3,4.5,5.5,5.0,4.5, 3.5,3.0,0.5,-1.5,-3.0,2.5,0.0,-3.0,-4.5,2.5, -0.5,-3.5,-5.0,2.0,-1.0,-4.0,-5.5,3.5,-0.5,-5.5],
  [7.2,9.0,9.0,8.9,5.0,4.8,2.5,2.0,1.6,3.2, 1.4,1.0,3.0,5.5,6.6,6.6,5.0,6.0,6.0,5.8, 5.0,4.0,2.0,0.5,0.0,4.5,2.0,0.0,-0.5,4.5, 1.5,-0.5,-1.0,4.5,2.0,-0.5,-1.0,5.5,2.5,-1.0],
  [7.4,9.2,9.2,9.1,5.3,5.1,2.8,2.4,1.9,3.5, 1.7,1.3,3.4,6.0,7.2,7.2,5.8,7.5,8.5,8.5, 7.5,7.0,6.0,5.5,5.0,9.0,7.0,6.0,6.0,10.0, 8.0,7.0,6.5,8.5,8.0,7.0,7.0,11.0,9.5,9.5],
  [7.1,8.8,8.8,8.7,4.8,4.6,2.3,1.8,1.4,3.0, 1.2,0.8,2.8,5.3,6.4,6.4,4.6,5.6,5.2,5.0, 4.0,3.0,1.0,-0.5,-1.5,3.0,1.0,-1.5,-2.0,3.5, 1.0,-1.5,-2.0,3.5,1.0,-2.0,-2.5,4.5,1.5,-2.5],
  [7.2,9.0,9.0,8.9,5.0,4.8,2.5,2.0,1.6,3.2, 1.4,1.0,3.0,5.5,6.6,6.6,5.1,6.2,6.5,6.5, 6.0,5.5,3.5,2.5,2.0,5.5,3.5,2.0,2.0,6.0, 4.0,2.5,2.0,6.0,4.0,2.0,2.0,7.0,5.0,3.0],
  [7.2,9.0,9.1,9.0,5.1,4.9,2.6,2.1,1.7,3.3, 1.5,1.1,3.1,5.6,6.7,6.7,5.2,6.3,6.5,6.2, 5.8,5.0,3.0,2.0,1.5,5.0,3.0,1.5,1.0,5.0, 3.0,1.5,1.0,5.0,3.0,1.0,1.0,6.0,3.5,2.0],
  [7.1,8.9,8.9,8.8,4.9,4.7,2.4,1.9,1.5,3.1, 1.3,0.9,2.9,5.4,6.5,6.5,4.8,5.7,5.6,5.4, 4.8,3.8,1.5,0.0,-1.0,3.5,1.0,-1.5,-2.5,3.0, 0.5,-1.5,-2.5,3.5,1.0,-2.0,-3.0,4.0,1.0,-3.0],
  [7.3,9.1,9.1,9.0,5.2,5.0,2.7,2.2,1.8,3.4, 1.6,1.2,3.2,5.7,6.9,6.9,5.4,6.8,7.5,7.2, 6.8,6.2,5.0,4.0,3.5,6.0,4.5,3.5,3.0,7.0, 5.0,3.5,3.0,6.5,5.0,3.5,3.0,8.0,6.0,5.0],
  [7.2,9.0,9.0,8.9,5.0,4.8,2.5,2.0,1.6,3.2, 1.4,1.0,3.0,5.5,6.6,6.6,4.9,5.9,5.8,5.6, 5.2,4.2,2.2,0.8,0.2,4.0,1.5,-0.5,-1.0,4.0, 1.5,0.0,-0.5,4.0,1.5,-1.0,-1.5,5.0,2.0,-0.5],
  [7.1,8.8,8.9,8.8,4.8,4.6,2.3,1.8,1.4,3.0, 1.2,0.8,2.7,5.3,6.3,6.3,4.6,5.5,5.2,4.8, 4.0,3.2,0.8,-1.0,-2.5,3.0,0.0,-2.5,-4.0,2.5, 0.0,-3.0,-4.0,2.5,0.0,-3.5,-4.5,3.5,0.0,-4.5],
  [7.3,9.1,9.2,9.1,5.2,5.0,2.7,2.3,1.9,3.5, 1.7,1.3,3.3,5.9,7.1,7.1,5.6,7.2,8.0,8.0, 7.2,6.8,5.5,5.0,4.5,7.5,5.5,4.5,4.0,8.0, 6.0,5.0,4.5,7.0,6.5,5.0,5.0,9.5,7.5,7.0]
];

var FONT = "'Liberation Sans', Arial, Helvetica, sans-serif";
var OLIVE = "rgb(84,94,58)";
var memberColors = ["rgb(143,186,98)", "rgb(118,160,72)"];

function series(values) {
  return hours.map(function (h, i) { return { x: h, y: values[i] }; });
}

// legend samples should repeat each line's own dash pattern
function legendItems(chart) {
  var items = Chart.defaults.plugins.legend.labels.generateLabels(chart);
  items.forEach(function (it) {
    var ds = chart.data.datasets[it.datasetIndex];
    it.lineDash = ds.borderDash || [];
    it.lineWidth = ds.borderWidth;
    it.strokeStyle = ds.borderColor;
    it.lineCap = "butt";
  });
  return items;
}

// decorations that the pluim layout has around the plot
var panelDecor = {
  id: "panelDecor",
  afterLayout: function (chart) {
    // keep the legend inside the top-left corner of the plot
    var lg = chart.legend, a = chart.chartArea;
    if (lg) {
      lg.top = a.top;
      lg.bottom = a.bottom;
      lg.left = a.left + 1;
      lg.right = a.left + 94;
    }
  },
  afterDraw: function (chart, args, opts) {
    var ctx = chart.ctx, a = chart.chartArea, xs = chart.scales.x;
    ctx.save();
    ctx.lineWidth = 1;
    ctx.setLineDash([2, 2]);
    ctx.strokeStyle = "rgb(150,165,120)";
    ctx.beginPath();
    ctx.moveTo(a.left, a.top + 0.5);
    ctx.lineTo(a.right, a.top + 0.5);
    ctx.stroke();
    ctx.strokeStyle = "rgb(95,105,75)";
    ctx.strokeRect(a.left + 0.5, a.top + 0.5, 103, 59);
    ctx.setLineDash([]);

    ctx.fillStyle = OLIVE;
    ctx.textAlign = "center";
    ctx.textBaseline = "middle";
    ctx.font = "10px " + FONT;
    ctx.fillText(opts.place, a.right - 47, a.top + 12);
    ctx.fillText(opts.kind, a.right - 47, a.top + 25);

    ctx.font = "6px " + FONT;
    dayLabels.forEach(function (d, i) {
      ctx.fillText("00", xs.getPixelForValue(i * 24), a.bottom + 25);
    });

    ctx.fillStyle = "rgb(40,40,225)";
    ctx.font = "bold 10px " + FONT;
    ctx.textAlign = "right";
    ctx.fillText("Bron: ECMWF/KNMI", chart.width - 8, chart.height - 5);

    ctx.fillStyle = OLIVE;
    ctx.font = "bold 17px " + FONT;
    ctx.textAlign = "center";
    ctx.translate(chart.width - 32, (a.top + a.bottom) / 2);
    ctx.rotate(-Math.PI / 2);
    ctx.fillText(opts.unit, 0, 0);
    ctx.restore();
  }
};

function makePanel(id, p) {
  var datasets = [
    { label: "Oper", data: series(p.oper), borderColor: "rgb(240,22,22)", borderWidth: 3, order: 0, inLegend: true },
    { label: "Control", data: series(p.control), borderColor: "rgb(35,40,230)", borderWidth: 3, borderDash: [10, 5], order: 1, inLegend: true },
    { label: "Ensgem", data: series(p.mean), borderColor: "rgb(155,70,45)", borderWidth: 2, borderDash: [2, 3], order: 2, inLegend: true }
  ];
  p.members.forEach(function (m, k) {
    datasets.push({ label: "lid " + (k + 1), data: series(m), borderColor: memberColors[k % 2], borderWidth: 1, order: 3, inLegend: false });
  });

  var tickFont = { family: FONT, size: 13, weight: "bold" };
  new Chart(document.getElementById(id), {
    type: "line",
    data: { datasets: datasets },
    plugins: [panelDecor],
    options: {
      responsive: false,
      animation: false,
      layout: { padding: 0 },
      elements: { point: { radius: 0 }, line: { tension: 0 } },
      plugins: {
        tooltip: { enabled: false },
        title: {
          display: true,
          text: "(Startdatum: 2011120400)   Zondag     4 December  2011",
          color: OLIVE,
          font: { family: FONT, size: 13, weight: "bold", lineHeight: 1.2 },
          padding: { top: 13.5, bottom: 2.9 }
        },
        legend: {
          position: "chartArea",
          align: "start",
          reverse: true,
          title: { display: true, text: " ", font: { size: 1 }, padding: { top: 13, bottom: 0 } },
          labels: {
            generateLabels: legendItems,
            filter: function (item, data) { return data.datasets[item.datasetIndex].inLegend; },
            usePointStyle: true,
            pointStyle: "line",
            pointStyleWidth: 32,
            padding: 0,
            color: "rgb(40,40,225)",
            textAlign: "center",
            font: { family: FONT, size: 11, weight: "bold", lineHeight: 1 }
          }
        },
        panelDecor: { place: p.place, kind: p.kind, unit: p.unit }
      },
      scales: {
        x: {
          type: "linear",
          min: 0,
          max: 240,
          afterFit: function (s) { s.height = 37; },
          grid: { display: false, drawTicks: false },
          border: { display: true, color: OLIVE, width: 1.5 },
          ticks: {
            stepSize: 12,
            autoSkip: false,
            maxRotation: 0,
            padding: 3,
            color: OLIVE,
            font: function (c) {
              return c.tick && c.tick.value % 24 === 0 ? tickFont : { family: FONT, size: 7, weight: "bold" };
            },
            callback: function (v) { return v % 24 === 0 ? dayLabels[v / 24] : "12"; }
          },
          title: {
            display: true,
            text: "Dag",
            color: OLIVE,
            font: { family: FONT, size: 17, weight: "bold", lineHeight: 1 },
            padding: { top: 0, bottom: 5.5 }
          }
        },
        y: {
          min: p.min,
          max: p.max,
          afterFit: function (s) { s.width = p.leftW; },
          border: { display: true, color: OLIVE, width: 1.5 },
          grid: {
            drawOnChartArea: !!p.zeroLine,
            tickLength: 5,
            tickColor: OLIVE,
            color: function (c) { return c.tick && c.tick.value === 0 ? "rgb(70,82,48)" : "rgba(0,0,0,0)"; },
            lineWidth: function (c) { return c.tick && c.tick.value === 0 ? 2 : 1; }
          },
          ticks: { stepSize: 5, padding: 2, color: OLIVE, font: tickFont },
          title: {
            display: true,
            text: p.unit,
            color: OLIVE,
            font: { family: FONT, size: 17, weight: "bold", lineHeight: 1 },
            padding: { top: 26.5, bottom: 0 }
          }
        },
        y2: {
          position: "right",
          min: p.min,
          max: p.max,
          afterFit: function (s) { s.width = p.rightW; },
          border: { display: true, color: OLIVE, width: 1.5 },
          grid: { drawOnChartArea: false, tickLength: 5, color: OLIVE },
          ticks: { stepSize: 5, padding: 3, color: OLIVE, font: tickFont }
        }
      }
    }
  });
}

makePanel("c1", { place: "Verdun", kind: "Neerslag", unit: "mm", min: 0, max: 25, leftW: 63, rightW: 64,
  oper: verdunRainOper, control: verdunRainControl, mean: verdunRainMean, members: verdunRainMembers });
makePanel("c2", { place: "Basel", kind: "Neerslag", unit: "mm", min: 0, max: 20, leftW: 65, rightW: 62,
  oper: baselRainOper, control: baselRainControl, mean: baselRainMean, members: baselRainMembers });
makePanel("c3", { place: "Verdun", kind: "10m wind", unit: "m/s", min: 0, max: 20, leftW: 63, rightW: 64,
  oper: verdunWindOper, control: verdunWindControl, mean: verdunWindMean, members: verdunWindMembers });
makePanel("c4", { place: "Basel", kind: "10m wind", unit: "m/s", min: 0, max: 20, leftW: 65, rightW: 62,
  oper: baselWindOper, control: baselWindControl, mean: baselWindMean, members: baselWindMembers });
makePanel("c5", { place: "Verdun", kind: "T2m", unit: "Celsius", min: -10, max: 20, leftW: 63, rightW: 64, zeroLine: true,
  oper: verdunTempOper, control: verdunTempControl, mean: verdunTempMean, members: verdunTempMembers });
makePanel("c6", { place: "Basel", kind: "T2m", unit: "Celsius", min: -10, max: 20, leftW: 65, rightW: 62, zeroLine: true,
  oper: baselTempOper, control: baselTempControl, mean: baselTempMean, members: baselTempMembers });
</script>
</body>
</html>
